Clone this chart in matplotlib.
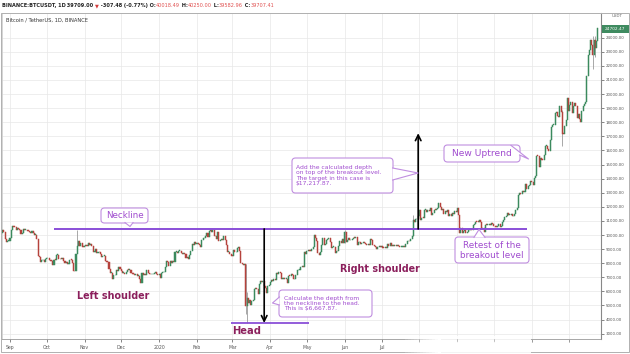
import numpy as np
import matplotlib
matplotlib.use("Agg")
import matplotlib.pyplot as plt
import matplotlib.dates as mdates
import matplotlib.transforms as mtransforms
from matplotlib.patches import FancyBboxPatch, Polygon, Rectangle
from matplotlib.lines import Line2D

# ---------------- data (BTC/USDT daily closes) ----------------
start_date = "2019-08-25"
first_open = 10110
close_2019_08 = [10140, 10370, 10190, 9720, 9490, 9580, 9600]
close_2019_09 = [9760, 10370, 10620, 10590, 10570, 10320, 10480, 10400, 10320, 10100,
                 10160, 10420, 10360, 10360, 10310, 10260, 10190, 10160, 10280, 10170,
                 9990, 10030, 9700, 8530, 8430, 8060, 8200, 8200, 8050, 8300]
close_2019_10 = [8340, 8390, 8230, 8160, 8150, 7880, 8230, 8210, 8590, 8590,
                 8270, 8320, 8300, 8370, 8160, 8000, 8080, 7960, 7960, 8240,
                 8220, 8030, 7470, 7420, 8660, 9250, 9550, 9250, 9430, 9170, 9150]
close_2019_11 = [9250, 9300, 9200, 9400, 9320, 9340, 9200, 8770, 8810, 9040,
                 8720, 8800, 8760, 8640, 8460, 8490, 8500, 8170, 8120, 8080,
                 7620, 7290, 7320, 6900, 7130, 7160, 7520, 7430, 7760, 7570]
close_2019_12 = [7420, 7300, 7300, 7200, 7400, 7540, 7510, 7530, 7340, 7230,
                 7210, 7190, 7250, 7080, 7120, 6880, 6620, 7280, 7150, 7190,
                 7140, 7510, 7320, 7250, 7200, 7200, 7250, 7320, 7390, 7220, 7190]
close_2020_01 = [7200, 6950, 7340, 7350, 7360, 7760, 8150, 8050, 7820, 8190,
                 8020, 8180, 8110, 8810, 8820, 8720, 8900, 8900, 8700, 8630,
                 8730, 8660, 8390, 8430, 8330, 8600, 8900, 9390, 9290, 9510, 9350]
close_2020_02 = [9390, 9340, 9290, 9180, 9610, 9760, 9800, 9900, 10160, 9850,
                 10270, 10350, 10240, 10370, 9900, 9930, 9700, 10180, 9600, 9610,
                 9690, 9670, 9960, 9660, 9310, 8790, 8790, 8670, 8530]
close_2020_03 = [8520, 8910, 8760, 8760, 9070, 9150, 8900, 8030, 7940, 7890,
                 7940, 4970, 5560, 5170, 5360, 5030, 5330, 5410, 6190, 6210,
                 6190, 5830, 6490, 6770, 6700, 6740, 6380, 6250, 5880, 6410, 6420]
close_2020_04 = [6640, 6810, 6740, 6870, 6780, 7340, 7200, 7370, 7300, 6860,
                 6890, 6910, 6860, 6880, 6620, 7120, 7100, 7260, 7130, 6850,
                 6860, 7140, 7490, 7510, 7540, 7700, 7790, 7760, 8790, 8620]
close_2020_05 = [8830, 8970, 8900, 8880, 9030, 9150, 9990, 9810, 9540, 8720,
                 8570, 8820, 9320, 9790, 9310, 9380, 9680, 9730, 9780, 9510,
                 9060, 9170, 9180, 8720, 8900, 8840, 9200, 9580, 9420, 9700, 9450]
close_2020_06 = [10200, 9520, 9660, 9800, 9620, 9670, 9750, 9780, 9770, 9880,
                 9320, 9470, 9470, 9340, 9430, 9520, 9460, 9390, 9310, 9360,
                 9290, 9690, 9630, 9290, 9250, 9160, 9010, 9120, 9190, 9140]
close_2020_07 = [9230, 9090, 9060, 9130, 9070, 9340, 9250, 9430, 9240, 9290,
                 9240, 9300, 9240, 9260, 9190, 9130, 9150, 9170, 9210, 9160,
                 9390, 9540, 9600, 9540, 9700, 9930, 11030, 10910, 11100, 11110, 11350]
close_2020_08 = [11800, 11070, 11230, 11190, 11750, 11770, 11600, 11760, 11680, 11880,
                 11400, 11580, 11780, 11770, 11860, 11910, 12290, 11960, 11760, 11870,
                 11520, 11680, 11650, 11760, 11330, 11460, 11330, 11540, 11480, 11710, 11650]
close_2020_09 = [11920, 11400, 10170, 10480, 10170, 10260, 10370, 10130, 10230, 10340,
                 10390, 10440, 10330, 10680, 10790, 10950, 10940, 10930, 11080, 10920,
                 10420, 10530, 10240, 10740, 10690, 10730, 10770, 10700, 10840, 10780]
close_2020_10 = [10620, 10570, 10550, 10670, 10790, 10600, 10670, 10920, 11060, 11300,
                 11370, 11540, 11420, 11430, 11500, 11320, 11370, 11500, 11750, 11920,
                 12820, 12980, 12930, 13120, 13030, 13070, 13650, 13270, 13460, 13560, 13800]
close_2020_11 = [13760, 13550, 14020, 14150, 15590, 15580, 14830, 15480, 15330, 15300,
                 15700, 16290, 16320, 16070, 15960, 16720, 17650, 17800, 17820, 18680,
                 18720, 18420, 18370, 19160, 18740, 17150, 17140, 17720, 18180, 19700]
close_2020_12 = [18770, 19220, 19420, 18650, 19150, 19360, 19170, 18320, 18550, 18250,
                 18040, 18800, 19170, 19270, 19440, 21310, 22800, 23110, 23830, 23480,
                 22740, 23820, 23240, 23730, 24700]

# notable wicks
wick_dates = ["2019-10-26", "2020-03-12", "2020-03-13", "2020-06-01", "2020-07-27",
              "2020-11-26", "2020-12-21", "2020-12-23"]
wick_highs = [10370, 7970, 5950, 10380, 11390, 18900, 24100, 24100]
wick_lows = [8970, 4410, 3782, 9420, 9900, 16330, 21800, 22600]

# pattern levels
neckline_price = 10430
head_price = 3762
target_price = 17218
neckline_span = ["2019-10-07", "2020-10-28"]
head_span = ["2020-02-29", "2020-05-03"]
depth_arrow_date = "2020-03-27"
target_arrow_date = "2020-07-31"

# axis labels
month_ticks = ["2019-09-01", "2019-10-01", "2019-11-01", "2019-12-01", "2020-01-01",
               "2020-02-01", "2020-03-01", "2020-04-01", "2020-05-01", "2020-06-01",
               "2020-07-01", "2020-08-01", "2020-09-01", "2020-10-01", "2020-11-01",
               "2020-12-01"]
month_labels = ["Sep", "Oct", "Nov", "Dec", "2020", "Feb", "Mar", "Apr", "May", "Jun",
                "Jul", "", "", "", "", ""]
price_ticks = list(range(3000, 24001, 1000))
last_price_label = "24702.47"
header_segments = [("BINANCE:BTCUSDT, 1D", "#222222", "bold"),
                   (" 39709.00 ", "#222222", "bold"),
                   ("\u25BC", "#d33b3b", "bold"),
                   (" -307.48 (-0.77%) O:", "#222222", "bold"),
                   ("40018.49", "#e05050", "normal"),
                   (" H:", "#222222", "bold"),
                   ("40250.00", "#e05050", "normal"),
                   (" L:", "#222222", "bold"),
                   ("39582.96", "#e05050", "normal"),
                   (" C:", "#222222", "bold"),
                   ("39707.41", "#e05050", "normal")]

# ---------------- figure ----------------
W, H = 630, 354
fig = plt.figure(figsize=(W / 100, H / 100), dpi=100)
fig.patch.set_facecolor("white")
px = mtransforms.Affine2D().scale(1 / W, -1 / H).translate(0, 1) + fig.transFigure

ax_left, ax_right, ax_top, ax_bot = 2, 601, 13, 339
ax = fig.add_axes([ax_left / W, 1 - ax_bot / H, (ax_right - ax_left) / W, (ax_bot - ax_top) / H])

closes = np.array(close_2019_08 + close_2019_09 + close_2019_10 + close_2019_11 + close_2019_12
                  + close_2020_01 + close_2020_02 + close_2020_03 + close_2020_04 + close_2020_05
                  + close_2020_06 + close_2020_07 + close_2020_08 + close_2020_09 + close_2020_10
                  + close_2020_11 + close_2020_12, dtype=float)
opens = np.concatenate([[first_open], closes[:-1]])
d0 = np.datetime64(start_date)
dates = np.arange(d0, d0 + len(closes))
xs = mdates.date2num(dates)

up_col, dn_col = "#3b8a5e", "#b5423c"
colors = np.where(closes >= opens, up_col, dn_col)
bottoms = np.minimum(opens, closes)
heights = np.maximum(np.abs(closes - opens), 60)

wx = mdates.date2num(np.array(wick_dates, dtype="datetime64[D]"))
ax.vlines(wx, wick_lows, wick_highs, color="#9a9a9a", lw=0.6, zorder=2)
ax.bar(xs, heights, bottom=bottoms, width=0.85, color=colors, edgecolor=colors, linewidth=0.35, zorder=3)

# levels
nx = mdates.date2num(np.array(neckline_span, dtype="datetime64[D]"))
ax.plot(nx, [neckline_price, neckline_price], color="#8a4fd8", lw=1.4, zorder=5, solid_capstyle="butt")
hx = mdates.date2num(np.array(head_span, dtype="datetime64[D]"))
ax.plot(hx, [head_price, head_price], color="#8a4fd8", lw=1.3, zorder=5, solid_capstyle="butt")

dx = mdates.date2num(np.datetime64(depth_arrow_date))
ax.annotate("", xy=(dx, head_price), xytext=(dx, neckline_price),
            arrowprops=dict(arrowstyle="->", color="black", lw=1.2, mutation_scale=10,
                            shrinkA=0, shrinkB=0), zorder=6)
tx = mdates.date2num(np.datetime64(target_arrow_date))
ax.annotate("", xy=(tx, target_price), xytext=(tx, neckline_price),
            arrowprops=dict(arrowstyle="->", color="black", lw=1.2, mutation_scale=10,
                            shrinkA=0, shrinkB=0), zorder=6)

# axes styling
xlim0 = mdates.date2num(np.datetime64("2019-08-25T11:00"))
xlim1 = mdates.date2num(np.datetime64("2020-12-27T14:00"))
ax.set_xlim(xlim0, xlim1)
ax.set_ylim(2624, 25745)
mt = mdates.date2num(np.array(month_ticks, dtype="datetime64[D]"))
ax.set_xticks(mt)
ax.set_xticklabels(month_labels)
ax.set_yticks(price_ticks)
ax.set_yticklabels(["%.2f" % p for p in price_ticks])
ax.yaxis.tick_right()
ax.tick_params(axis="y", length=2, width=0.5, pad=1.5, labelsize=2.9, colors="#555555")
ax.tick_params(axis="x", length=2, width=0.5, pad=2.5, labelsize=3.3, colors="#555555")
ax.grid(True, color="#e8e8e8", lw=0.5, zorder=0)
for s in ["left", "top"]:
    ax.spines[s].set_color("#cfcfcf")
    ax.spines[s].set_linewidth(0.6)
ax.spines["right"].set_color("#888888")
ax.spines["right"].set_linewidth(0.8)
ax.spines["bottom"].set_color("#999999")
ax.spines["bottom"].set_linewidth(0.6)
ax.set_facecolor("white")

# outer frame
fig.add_artist(Rectangle((1, 13), 628, 339, transform=px, fill=False, ec="#b0b0b0", lw=0.7, zorder=1))
# faded bottom area
for i in range(12):
    fig.add_artist(Rectangle((405 + i * 3, 336), 3, 18, transform=px, fc="white", ec="none",
                             alpha=min(1, 0.15 + i * 0.08), zorder=20))
fig.add_artist(Rectangle((441, 336), 90, 18, transform=px, fc="white", ec="none", alpha=0.85, zorder=20))
for t in mt[11:]:
    xp = ax_left + (t - xlim0) / (xlim1 - xlim0) * (ax_right - ax_left)
    fig.add_artist(Line2D([xp, xp], [339, 341], transform=px, color="#aaaaaa", lw=0.5, zorder=21))

# header
prev = fig.text(1.5, 5.5, header_segments[0][0], transform=px, fontsize=3.6, color=header_segments[0][1],
                fontweight=header_segments[0][2], va="center", ha="left")
for seg, col, wt in header_segments[1:]:
    prev = ax.annotate(seg, xy=(1, 0.5), xycoords=prev, va="center", ha="left", fontsize=3.6,
                       color=col, fontweight=wt, annotation_clip=False)
fig.text(6, 19.5, "Bitcoin / TetherUS, 1D, BINANCE", transform=px, fontsize=3.7, color="#333333",
         va="center", ha="left")

# right price axis extras
fig.text(617, 16, "USDT", transform=px, fontsize=2.9, color="#666666", ha="center", va="center")
fig.add_artist(Rectangle((601.5, 25), 27, 8, transform=px, fc="#3f8b60", ec="none", zorder=10))
fig.text(615, 29, last_price_label, transform=px, fontsize=3.1, color="white", ha="center", va="center",
         zorder=11)

# ---------------- annotations ----------------
box_ec = "#c08ee0"
box_tc = "#a04ccf"
label_c = "#8b1f5c"


def callout(x0, y0, w, h, b1, b2, tip):
    fig.add_artist(FancyBboxPatch((x0, y0), w, h, boxstyle="round,pad=0,rounding_size=3.5",
                                  transform=px, fc="white", ec=box_ec, lw=0.8, zorder=12))
    fig.add_artist(Polygon([b1, tip, b2], closed=True, transform=px, fc="white", ec="none", zorder=13))
    fig.add_artist(Line2D([b1[0], tip[0], b2[0]], [b1[1], tip[1], b2[1]], transform=px,
                          color=box_ec, lw=0.8, zorder=14))


callout(101, 208, 47, 15, (125, 222.6), (133, 222.6), (130, 226.5))
fig.text(124.5, 215.5, "Neckline", transform=px, fontsize=6.3, color=box_tc, ha="center", va="center", zorder=15)

callout(279, 290, 93, 27, (279.4, 297), (279.4, 305), (272.5, 303))
fig.text(284, 303.5, "Calculate the depth from\nthe neckline to the head.\nThis is $6,667.87.",
         transform=px, fontsize=4.3, color=box_tc, ha="left", va="center", linespacing=1.05, zorder=15)

callout(292, 158, 101, 35, (392.6, 168), (392.6, 180), (418, 173))
fig.text(296, 175.5, "Add the calculated depth\non top of the breakout level.\nThe target in this case is\n$17,217.87.",
         transform=px, fontsize=4.3, color=box_tc, ha="left", va="center", linespacing=1.05, zorder=15)

callout(444, 145, 76, 17, (511, 145.4), (519.6, 155), (528.5, 159))
fig.text(482, 153.8, "New Uptrend", transform=px, fontsize=6.6, color=box_tc, ha="center", va="center", zorder=15)

callout(455, 237, 74, 26, (474, 237.4), (485, 237.4), (479, 229.5))
fig.text(492, 250.5, "Retest of the\nbreakout level", transform=px, fontsize=6.4, color=box_tc,
         ha="center", va="center", linespacing=1.0, zorder=15)

fig.text(113, 296, "Left shoulder", transform=px, fontsize=6.9, color=label_c, fontweight="bold",
         ha="center", va="center", zorder=15)
fig.text(380, 269, "Right shoulder", transform=px, fontsize=6.9, color=label_c, fontweight="bold",
         ha="center", va="center", zorder=15)
fig.text(247, 331, "Head", transform=px, fontsize=7.2, color=label_c, fontweight="bold",
         ha="center", va="center", zorder=15)

fig.savefig("out.png", dpi=100, facecolor="white")
